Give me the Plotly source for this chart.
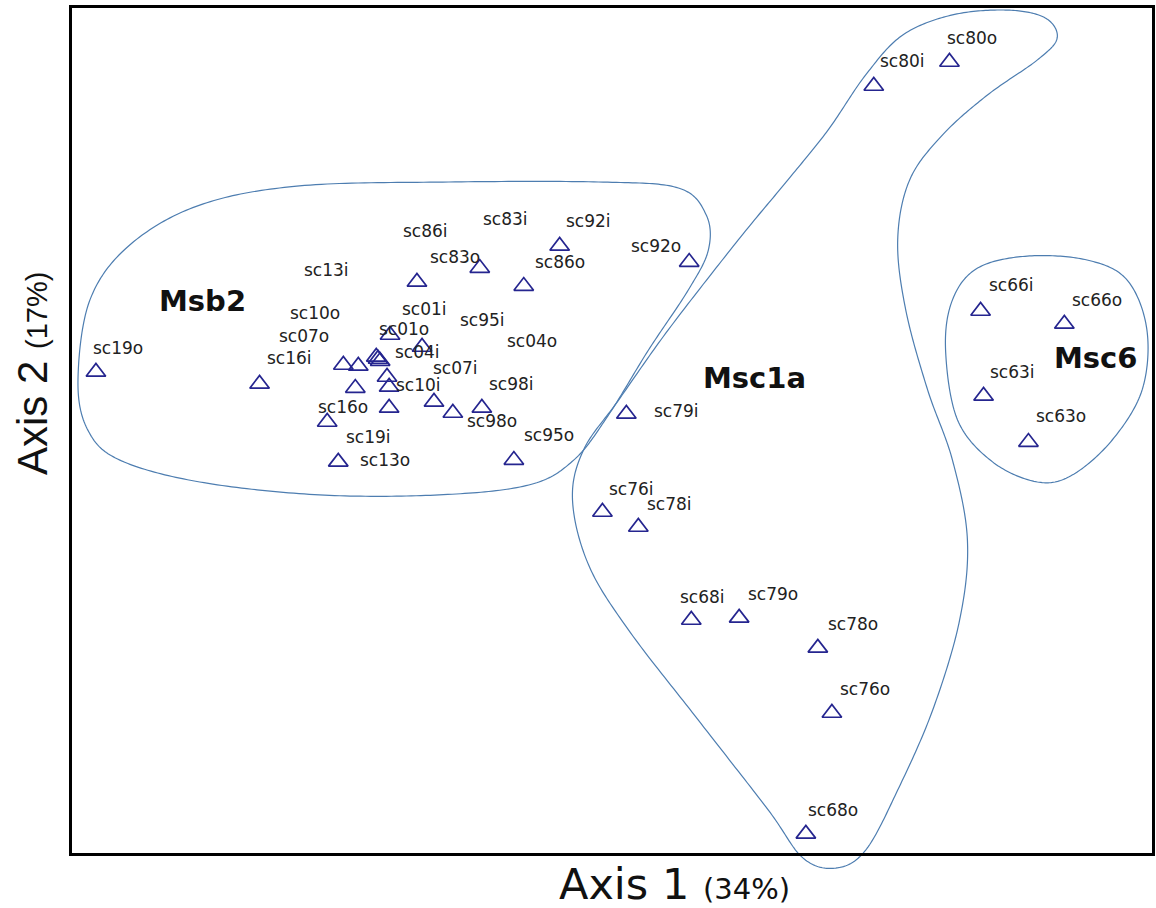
import numpy as np
import plotly.graph_objects as go

# Ordination scores (Axis 1, Axis 2) for each sample
samples = [
    "sc19o", "sc16i", "sc07o", "sc10o", "sc13i", "sc86i", "sc83i", "sc83o",
    "sc92i", "sc92o", "sc86o", "sc01i", "sc01o", "sc95i", "sc04o", "sc04i",
    "sc07i", "sc10i", "sc98i", "sc16o", "sc98o", "sc19i", "sc13o", "sc95o",
    "sc80i", "sc80o", "sc79i", "sc76i", "sc78i", "sc68i", "sc79o", "sc78o",
    "sc76o", "sc68o",
    "sc66i", "sc66o", "sc63i", "sc63o",
]
axis1 = [
    -1.080, -0.533, -0.253, -0.203, -0.007, -0.143, -0.130, 0.203,
    0.470, 0.903, 0.350, 0.010, -0.097, 0.113, 0.210, -0.137,
    0.050, -0.107, -0.100, -0.100, -0.213, -0.307, -0.270, 0.317,
    1.520, 1.773, 0.693, 0.613, 0.733, 0.910, 1.070, 1.333,
    1.380, 1.293,
    1.877, 2.157, 1.887, 2.037,
]
axis2 = [
    0.427, 0.387, 0.450, 0.447, 0.727, 0.477, 0.463, 0.773,
    0.847, 0.793, 0.713, 0.510, 0.550, 0.290, 0.307, 0.470,
    0.327, 0.410, 0.377, 0.307, 0.373, 0.260, 0.127, 0.133,
    1.380, 1.460, 0.287, -0.040, -0.090, -0.400, -0.393, -0.493,
    -0.710, -1.113,
    0.630, 0.587, 0.347, 0.193,
]

# Group names and where their titles sit (score units)
group_names = ["Msb2", "Msc1a", "Msc6"]
group_label_x = [-0.723, 1.120, 2.263]
group_label_y = [0.663, 0.407, 0.473]

# Outline control points for each group (score units)
msb2_x = [-1.140, -1.100, -0.967, -0.733, -0.400, 0.100, 0.600, 0.867, 0.960, 0.967,
          0.900, 0.767, 0.633, 0.517, 0.367, 0.067, -0.333, -0.733, -1.000, -1.107]
msb2_y = [0.400, 0.667, 0.850, 0.983, 1.047, 1.060, 1.060, 1.040, 0.950, 0.833,
          0.700, 0.500, 0.283, 0.133, 0.050, 0.017, 0.017, 0.060, 0.133, 0.233]
msc1a_x = [1.367, 1.493, 1.617, 1.783, 1.967, 2.093, 2.133, 2.067, 1.900, 1.750,
           1.640, 1.600, 1.627, 1.700, 1.783, 1.833, 1.807, 1.717, 1.600, 1.493,
           1.393, 1.283, 1.167, 0.933, 0.700, 0.567, 0.513, 0.550, 0.667, 0.833,
           1.067, 1.233]
msc1a_y = [1.233, 1.417, 1.550, 1.617, 1.633, 1.607, 1.540, 1.467, 1.350, 1.217,
           1.067, 0.867, 0.633, 0.367, 0.133, -0.133, -0.400, -0.700, -0.967, -1.167,
           -1.227, -1.193, -1.033, -0.733, -0.433, -0.217, 0.000, 0.167, 0.333, 0.567,
           0.867, 1.067]
msc6_x = [1.760, 1.783, 1.867, 2.033, 2.233, 2.367, 2.433, 2.417, 2.317, 2.183,
          2.067, 1.917, 1.800]
msc6_y = [0.500, 0.667, 0.773, 0.813, 0.800, 0.733, 0.567, 0.367, 0.200, 0.083,
          0.060, 0.127, 0.267]

# Label placement relative to each marker, in pixels (right, down)
label_shift = {
    "sc19o": (22, -24), "sc16i": (30, -26), "sc07o": (-39, -29), "sc10o": (-43, -53),
    "sc13i": (-90, -12), "sc86i": (49, -126), "sc83i": (125, -142), "sc83o": (-25, -11),
    "sc92i": (29, -25), "sc92o": (-33, -16), "sc86o": (36, -24), "sc01i": (2, -38),
    "sc01o": (14, -6), "sc95i": (30, -93), "sc04o": (50, -67), "sc04i": (39, -7),
    "sc07i": (22, -34), "sc10i": (31, 8), "sc98i": (122, -3), "sc16o": (-46, -1),
    "sc98o": (137, 33), "sc19i": (41, 15), "sc13o": (47, -2), "sc95o": (35, -25),
    "sc80i": (29, -25), "sc80o": (23, -24), "sc79i": (50, -3), "sc76i": (29, -23),
    "sc78i": (31, -23), "sc68i": (11, -23), "sc79o": (34, -24), "sc78o": (35, -24),
    "sc76o": (33, -24), "sc68o": (27, -24),
    "sc66i": (31, -26), "sc66o": (33, -24), "sc63i": (29, -24), "sc63o": (33, -26),
}

X_RANGE = (-1.16, 2.45)
Y_RANGE = (-1.1767, 1.64)

MARKER_COLOR = "#25258f"
OUTLINE_COLOR = "#4d7db0"
LABEL_FONT = "DejaVu Sans"


def closed_spline(xs, ys, steps=24):
    """Closed Catmull-Rom curve through the control points."""
    p = np.column_stack([xs, ys]).astype(float)
    n = len(p)
    out = []
    for i in range(n):
        p0, p1, p2, p3 = p[(i - 1) % n], p[i], p[(i + 1) % n], p[(i + 2) % n]
        for t in np.linspace(0, 1, steps, endpoint=False):
            t2, t3 = t * t, t * t * t
            pt = 0.5 * ((2 * p1) + (-p0 + p2) * t
                        + (2 * p0 - 5 * p1 + 4 * p2 - p3) * t2
                        + (-p0 + 3 * p1 - 3 * p2 + p3) * t3)
            out.append(pt)
    out.append(out[0])
    return np.array(out)


def outline_path(xs, ys):
    # paper coordinates so the outline is not clipped at the frame
    c = closed_spline(xs, ys)
    px = (c[:, 0] - X_RANGE[0]) / (X_RANGE[1] - X_RANGE[0])
    py = (c[:, 1] - Y_RANGE[0]) / (Y_RANGE[1] - Y_RANGE[0])
    return "M " + " L ".join(f"{a:.5f},{b:.5f}" for a, b in zip(px, py)) + " Z"


fig = go.Figure()

fig.add_trace(go.Scatter(
    x=axis1, y=axis2, mode="markers", text=samples, hoverinfo="text",
    marker=dict(symbol="triangle-up-open", size=17, color=MARKER_COLOR,
                line=dict(width=1.7, color=MARKER_COLOR)),
    cliponaxis=False, showlegend=False,
))

shapes = []
for gx, gy in [(msb2_x, msb2_y), (msc1a_x, msc1a_y), (msc6_x, msc6_y)]:
    shapes.append(dict(type="path", xref="paper", yref="paper",
                       path=outline_path(gx, gy),
                       line=dict(color=OUTLINE_COLOR, width=1.2), layer="below"))

annotations = []
for name, x, y in zip(samples, axis1, axis2):
    dx, dy = label_shift[name]
    annotations.append(dict(x=x, y=y, xref="x", yref="y", text=name, showarrow=False,
                            xanchor="center", yanchor="middle",
                            xshift=dx, yshift=-dy,
                            font=dict(family=LABEL_FONT, size=17, color="#222222")))

for name, x, y in zip(group_names, group_label_x, group_label_y):
    annotations.append(dict(x=x, y=y, xref="x", yref="y", text=f"<b>{name}</b>",
                            showarrow=False, xanchor="center", yanchor="middle",
                            font=dict(family="DejaVu Sans", size=29, color="#111111")))

# Axis titles
annotations.append(dict(
    x=0.558, y=-0.0365, xref="paper", yref="paper", showarrow=False,
    xanchor="center", yanchor="middle", height=44, valign="middle",
    text="Axis 1 <span style='font-size:29px'>(34%)</span>",
    font=dict(family="DejaVu Sans", size=43, color="#111111"),
))
annotations.append(dict(
    x=-0.036, y=0.567, xref="paper", yref="paper", showarrow=False, textangle=-90,
    xanchor="center", yanchor="middle",
    text="Axis 2 <span style='font-size:29px'>(17%)</span>",
    font=dict(family="Liberation Sans", size=42, color="#111111"),
))

axis_style = dict(showgrid=False, zeroline=False, showticklabels=False, ticks="",
                  showline=True, mirror=True, linecolor="#000000", linewidth=3)

fig.update_layout(
    width=1156, height=908,
    margin=dict(l=72, r=1, t=8, b=55),
    paper_bgcolor="white", plot_bgcolor="white",
    xaxis=dict(range=list(X_RANGE), **axis_style),
    yaxis=dict(range=list(Y_RANGE), **axis_style),
    shapes=shapes, annotations=annotations,
)

fig.write_html("out.html")
